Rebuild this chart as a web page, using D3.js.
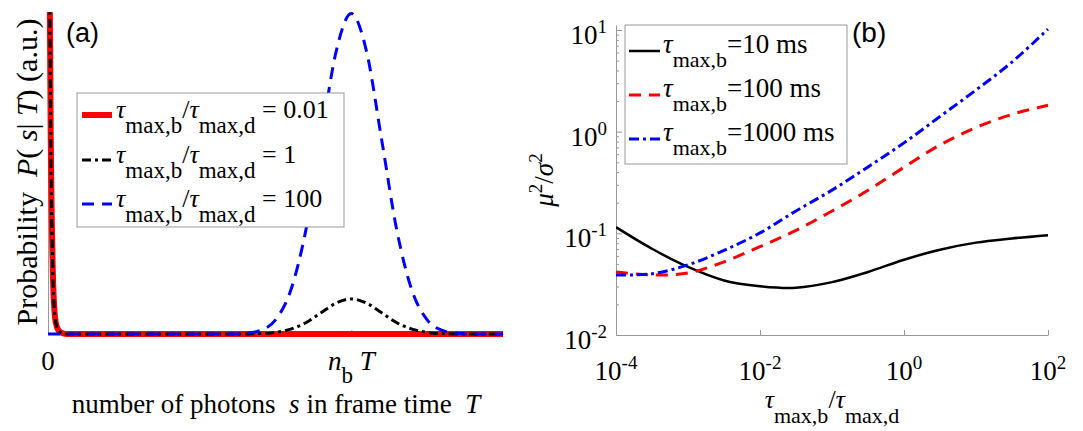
<!DOCTYPE html>
<html>
<head>
<meta charset="utf-8">
<script src="https://cdn.jsdelivr.net/npm/d3@7"></script>
<style>
    body { margin: 0; background: #fff; }
    svg { display: block; }
</style>
</head>
<body>
<div id="figure"></div>
<script>
(function () {
    "use strict";

    // ---- panel (a): photon count distributions ----
    const sMax = 1.5;                 // frame time axis, in units of n_b T
    const sTicks = [0, 1];
    const spikeS = [0, 0.005, 0.009, 0.0155, 0.023, 0.03, 0.04, 0.05, 0.062];
    const spikeP = [1.6, 1.15, 0.62, 0.21, 0.053, 0.02, 0.006, 0.002, 0];
    const peakS = [0.6, 0.65, 0.7, 0.75, 0.8, 0.85, 0.9, 0.95, 1.0, 1.05, 1.1, 1.15, 1.2, 1.25, 1.3, 1.35, 1.4];
    const peakRatio1 = [0, 0, 0.0012, 0.0048, 0.015, 0.035, 0.066, 0.096, 0.109, 0.096, 0.066, 0.035, 0.015, 0.0048, 0.0012, 0, 0];
    const peakRatio100 = [0, 0.002, 0.011, 0.044, 0.135, 0.322, 0.603, 0.878, 0.995, 0.878, 0.603, 0.322, 0.135, 0.044, 0.011, 0.002, 0];
    const ratiosA = ["0.01", "1", "100"];

    // ---- panel (b): mu^2 / sigma^2 vs tau_max,b / tau_max,d ----
    const ratioExp = [-4, -3.5, -3, -2.5, -2, -1.5, -1, -0.5, 0, 0.5, 1, 1.5, 2];
    const snrTau10 = [0.115, 0.0705, 0.0467, 0.0344, 0.0302, 0.0292, 0.0331, 0.0417, 0.055, 0.069, 0.081, 0.089, 0.096];
    const snrTau100 = [0.0416, 0.039, 0.0407, 0.0525, 0.074, 0.107, 0.166, 0.265, 0.447, 0.74, 1.10, 1.48, 1.82];
    const snrTau1000 = [0.039, 0.040, 0.049, 0.068, 0.101, 0.166, 0.266, 0.45, 0.776, 1.41, 2.57, 4.84, 10.2];
    const tauB = ["10", "100", "1000"];
    const xTickExpB = [-4, -2, 0, 2];
    const yTickExpB = [-2, -1, 0, 1];

    const axisColor = "#999";
    const serif = "'Liberation Serif', 'Times New Roman', monospace";
    const sans = "'Liberation Sans', Arial, sans-serif";

    function zip(xs, ys) {
        return xs.map((x, i) => ({ x: x, y: ys[i] }));
    }

    function label(parent, size) {
        return parent.append("text")
            .attr("xml:space", "preserve")
            .attr("font-family", serif)
            .attr("font-size", size)
            .attr("fill", "#000");
    }

    // text with italic / subscript / superscript runs
    function rich(text, parts, sizes) {
        let cur = 0;
        for (const [t, kind] of parts) {
            const target = kind === "sub" ? sizes.sub : kind === "sup" ? -sizes.sup : 0;
            const span = text.append("tspan").text(t);
            if (target !== cur) {
                span.attr("dy", target - cur);
            }
            cur = target;
            if (kind === "i") {
                span.attr("font-style", "italic");
            }
            if (kind === "sub" || kind === "sup") {
                span.attr("font-size", sizes.small);
            }
        }
        return text;
    }

    function styleAxis(g) {
        g.select(".domain").attr("stroke", axisColor);
        g.selectAll(".tick line").attr("stroke", axisColor);
        g.selectAll(".tick text").remove();
    }

    function drawPanelA(svg) {
        const x = d3.scaleLinear().domain([0, sMax]).range([48, 503]);
        const y = d3.scaleLinear().domain([0, 1]).range([334, 12]);

        svg.append("clipPath").attr("id", "clip-a")
            .append("rect").attr("x", 44).attr("y", 12).attr("width", 462).attr("height", 328);

        svg.append("g")
            .attr("transform", "translate(0,334)")
            .call(d3.axisBottom(x).tickValues(sTicks).tickSizeInner(-4).tickSizeOuter(0))
            .call(styleAxis);

        svg.append("g")
            .attr("transform", "translate(48,0)")
            .call(d3.axisLeft(y).tickValues([]).tickSizeOuter(0))
            .call(styleAxis);

        const spike = zip(spikeS, spikeP);
        const series = [
            { color: "#ff0000", width: 6, dash: null,
              data: spike.concat([{ x: sMax, y: 0 }]) },
            { color: "#000", width: 3, dash: "9,4,3,4",
              data: spike.concat(zip(peakS, peakRatio1), [{ x: sMax, y: 0 }]) },
            { color: "#0000ff", width: 3, dash: "12,8",
              data: [{ x: 0, y: 0 }].concat(zip(peakS, peakRatio100), [{ x: sMax, y: 0 }]) }
        ];

        const line = d3.line()
            .x(d => x(d.x))
            .y(d => y(d.y))
            .curve(d3.curveMonotoneX);

        const lines = svg.append("g").attr("clip-path", "url(#clip-a)");
        for (const s of series) {
            lines.append("path")
                .attr("d", line(s.data))
                .attr("fill", "none")
                .attr("stroke", s.color)
                .attr("stroke-width", s.width)
                .attr("stroke-linejoin", "round")
                .attr("stroke-dasharray", s.dash);
        }

        // tick labels
        label(svg, 27)
            .attr("x", x(0)).attr("y", 370)
            .attr("text-anchor", "middle")
            .text("0");
        rich(label(svg, 27)
            .attr("x", x(1)).attr("y", 370)
            .attr("text-anchor", "middle"),
            [["n", "i"], ["b", "sub"], [" T", "i"]], { sub: 13, sup: 0, small: 23 });

        rich(label(svg, 27)
            .attr("x", 276).attr("y", 413)
            .attr("text-anchor", "middle"),
            [["number of photons  ", ""], ["s", "i"], [" in frame time  ", ""], ["T", "i"]],
            { sub: 0, sup: 0, small: 27 });

        rich(label(svg, 30)
            .attr("transform", "translate(37,172) rotate(-90)")
            .attr("text-anchor", "middle"),
            [["Probability  ", ""], ["P", "i"], ["( ", ""], ["s", "i"], ["| ", ""], ["T", "i"], [") (a.u.)", ""]],
            { sub: 0, sup: 0, small: 30 });

        svg.append("text")
            .attr("font-family", sans)
            .attr("font-size", 27)
            .attr("x", 66).attr("y", 42)
            .text("(a)");

        // legend
        const legend = svg.append("g").attr("class", "legend");
        legend.append("rect")
            .attr("x", 77).attr("y", 93).attr("width", 267).attr("height", 134)
            .attr("fill", "#fff").attr("stroke", axisColor);
        const rowY = [115, 160, 204];
        series.forEach((s, i) => {
            legend.append("line")
                .attr("x1", 82).attr("x2", 112)
                .attr("y1", rowY[i]).attr("y2", rowY[i])
                .attr("stroke", s.color)
                .attr("stroke-width", s.width)
                .attr("stroke-dasharray", s.dash);
            rich(label(legend, 26)
                .attr("x", 116).attr("y", rowY[i] + 3),
                [["τ", "i"], ["max,b", "sub"], ["/", ""], ["τ", "i"], ["max,d", "sub"], [" = " + ratiosA[i], ""]],
                { sub: 15, sup: 0, small: 23 });
        });
    }

    function drawPanelB(svg) {
        const x = d3.scaleLog().domain([1e-4, 1e2]).range([616, 1048]);
        const y = d3.scaleLog().domain([0.01, 11.2]).range([335, 25]);

        svg.append("clipPath").attr("id", "clip-b")
            .append("rect").attr("x", 616).attr("y", 25).attr("width", 434).attr("height", 310);

        svg.append("g")
            .attr("transform", "translate(0,335)")
            .call(d3.axisBottom(x).tickValues(xTickExpB.map(e => Math.pow(10, e))).tickSizeInner(-5).tickSizeOuter(0))
            .call(styleAxis);

        const minors = [];
        for (const e of [-2, -1, 0]) {
            for (let k = 2; k <= 9; k++) {
                minors.push(k * Math.pow(10, e));
            }
        }
        svg.append("g")
            .attr("transform", "translate(616,0)")
            .call(d3.axisLeft(y).tickValues(yTickExpB.map(e => Math.pow(10, e))).tickSizeInner(-6).tickSizeOuter(0))
            .call(styleAxis);
        svg.append("g")
            .attr("transform", "translate(616,0)")
            .call(d3.axisLeft(y).tickValues(minors).tickSizeInner(-3).tickSizeOuter(0))
            .call(styleAxis)
            .call(g => g.select(".domain").remove());

        const tickSizes = { sub: 0, sup: 11, small: 19 };
        for (const e of xTickExpB) {
            rich(label(svg, 27)
                .attr("x", x(Math.pow(10, e))).attr("y", 380)
                .attr("text-anchor", "middle"),
                [["10", ""], [String(e), "sup"]], tickSizes);
        }
        for (const e of yTickExpB) {
            rich(label(svg, 27)
                .attr("x", 607).attr("y", y(Math.pow(10, e)) + 14)
                .attr("text-anchor", "end"),
                [["10", ""], [String(e), "sup"]], tickSizes);
        }

        rich(label(svg, 26)
            .attr("x", 832).attr("y", 408)
            .attr("text-anchor", "middle"),
            [["τ", "i"], ["max,b", "sub"], ["/", ""], ["τ", "i"], ["max,d", "sub"]],
            { sub: 15, sup: 0, small: 22 });

        rich(label(svg, 27)
            .attr("transform", "translate(553,180) rotate(-90)")
            .attr("text-anchor", "middle"),
            [["μ", "i"], ["2", "sup"], ["/", ""], ["σ", "i"], ["2", "sup"]],
            { sub: 0, sup: 11, small: 19 });

        svg.append("text")
            .attr("font-family", sans)
            .attr("font-size", 28)
            .attr("x", 852).attr("y", 42)
            .text("(b)");

        const series = [
            { color: "#000", width: 2.5, dash: null, values: snrTau10 },
            { color: "#ff0000", width: 3, dash: "12,8", values: snrTau100 },
            { color: "#0000ff", width: 3, dash: "10,4,3,4", values: snrTau1000 }
        ];

        const line = d3.line()
            .x(d => x(Math.pow(10, d.x)))
            .y(d => y(d.y))
            .curve(d3.curveCatmullRom.alpha(0.5));

        const lines = svg.append("g").attr("clip-path", "url(#clip-b)");
        for (const s of series) {
            lines.append("path")
                .attr("d", line(zip(ratioExp, s.values)))
                .attr("fill", "none")
                .attr("stroke", s.color)
                .attr("stroke-width", s.width)
                .attr("stroke-dasharray", s.dash);
        }

        const legend = svg.append("g").attr("class", "legend");
        legend.append("rect")
            .attr("x", 625).attr("y", 25).attr("width", 222).attr("height", 139)
            .attr("fill", "#fff").attr("stroke", axisColor);
        const rowY = [51, 95, 139];
        series.forEach((s, i) => {
            legend.append("line")
                .attr("x1", 629).attr("x2", 660)
                .attr("y1", rowY[i]).attr("y2", rowY[i])
                .attr("stroke", s.color)
                .attr("stroke-width", s.width)
                .attr("stroke-dasharray", s.dash);
            rich(label(legend, 27)
                .attr("x", 663).attr("y", rowY[i] + 2),
                [["τ", "i"], ["max,b", "sub"], ["=" + tauB[i] + " ms", ""]],
                { sub: 14, sup: 0, small: 22 });
        });
    }

    const svg = d3.select("#figure").append("svg")
        .attr("width", 1083)
        .attr("height", 431);

    drawPanelA(svg);
    drawPanelB(svg);
}());
</script>
</body>
</html>
